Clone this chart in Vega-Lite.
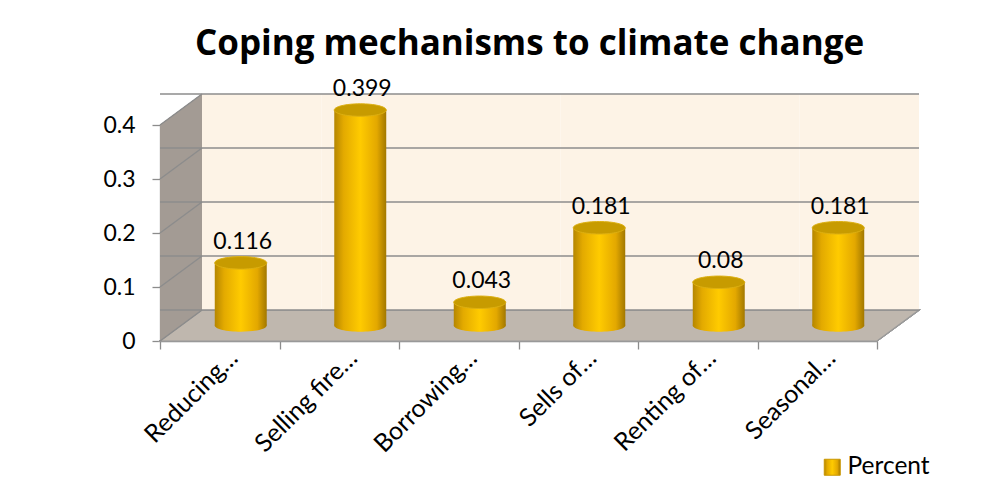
{
  "$schema": "https://vega.github.io/schema/vega-lite/v6.json",
  "width": 717,
  "height": 216,
  "autosize": {"type": "none"},
  "padding": {"left": 160, "top": 125, "right": 112, "bottom": 147},
  "background": "white",
  "config": {
    "view": {"stroke": null},
    "font": "Lato",
    "axis": {
      "labelFont": "Lato",
      "labelFontSize": 23,
      "labelColor": "black",
      "domainColor": "#8C8C8C",
      "domainWidth": 1.3,
      "tickColor": "#8C8C8C",
      "tickWidth": 1.3,
      "tickSize": 8,
      "grid": false,
      "zindex": 1
    },
    "axisX": {"labelAngle": -45, "labelFontSize": 25, "labelPadding": -4, "labelOffset": 5, "tickBand": "extent"},
    "axisY": {"labelPadding": 17}
  },
  "title": {
    "text": "Coping mechanisms to climate change",
    "font": "Open Sans",
    "fontSize": 35,
    "fontWeight": "bold",
    "color": "black",
    "anchor": "middle",
    "frame": "group",
    "baseline": "alphabetic",
    "offset": -12,
    "dx": 11
  },
  "datasets": {
    "coping": [
      {"mechanism": "Reducing…", "share": 0.116},
      {"mechanism": "Selling fire…", "share": 0.399},
      {"mechanism": "Borrowing…", "share": 0.043},
      {"mechanism": "Sells of…", "share": 0.181},
      {"mechanism": "Renting of…", "share": 0.08},
      {"mechanism": "Seasonal…", "share": 0.181}
    ],
    "levels": [
      {"level": 0}, {"level": 0.1}, {"level": 0.2}, {"level": 0.3}, {"level": 0.4}
    ]
  },
  "data": {"name": "coping"},
  "layer": [
    {
      "description": "cylinder bodies, with the axes",
      "mark": {
        "type": "bar",
        "width": {"band": 0.435},
        "xOffset": 21,
        "yOffset": -15.5,
        "y2Offset": -15.5,
        "strokeWidth": 0,
        "fill": {
          "gradient": "linear", "x1": 0, "y1": 0, "x2": 1, "y2": 0,
          "stops": [
            {"offset": 0, "color": "#B58600"},
            {"offset": 0.18, "color": "#E3AA00"},
            {"offset": 0.5, "color": "#FFCB00"},
            {"offset": 0.82, "color": "#E3A800"},
            {"offset": 1, "color": "#A27800"}
          ]
        }
      },
      "encoding": {
        "x": {
          "field": "mechanism",
          "type": "nominal",
          "sort": null,
          "title": null,
          "scale": {"paddingInner": 0, "paddingOuter": 0}
        },
        "y": {
          "field": "share",
          "type": "quantitative",
          "title": null,
          "scale": {"domain": [0, 0.4], "nice": false},
          "axis": {"values": [0, 0.1, 0.2, 0.3, 0.4], "format": "~g"}
        },
        "stroke": {
          "datum": "Percent",
          "type": "nominal",
          "scale": {"range": ["#C99700"]},
          "legend": {
            "title": null,
            "orient": "none",
            "legendX": 660,
            "legendY": 330,
            "padding": 0,
            "symbolType": "square",
            "symbolSize": 256,
            "symbolFillColor": "#FFC000",
            "symbolStrokeColor": "#C99700",
            "symbolStrokeWidth": 1,
            "symbolOpacity": 1,
            "labelFont": "Lato",
            "labelFontSize": 24.5,
            "labelColor": "black",
            "labelOffset": 3
          }
        }
      }
    },
    {
      "description": "floor of the 3D box",
      "mark": {
        "type": "point",
        "shape": "M0,0 L717,0 L759,-31 L42,-31 Z",
        "size": 4,
        "filled": true,
        "fill": "#BFB7AE",
        "stroke": "#9A9A9A",
        "strokeWidth": 1.2,
        "opacity": 1
      },
      "encoding": {
        "x": {"datum": "Reducing…", "type": "nominal", "bandPosition": 0, "title": null},
        "y": {"datum": 0, "type": "quantitative", "title": null}
      }
    },
    {
      "description": "back wall",
      "mark": {
        "type": "rect",
        "fill": "#FDF3E6",
        "xOffset": 42,
        "x2Offset": 42,
        "yOffset": -31,
        "y2Offset": -31
      },
      "encoding": {
        "x": {"field": "mechanism", "type": "nominal", "sort": null, "title": null},
        "y": {"datum": 0, "type": "quantitative", "title": null},
        "y2": {"datum": 0.4}
      }
    },
    {
      "description": "left side wall",
      "mark": {
        "type": "point",
        "shape": "M0,0 L0,-216 L42,-247 L42,-31 Z",
        "size": 4,
        "filled": true,
        "fill": "#A39B94",
        "strokeWidth": 0,
        "opacity": 1
      },
      "encoding": {
        "x": {"datum": "Reducing…", "type": "nominal", "bandPosition": 0, "title": null},
        "y": {"datum": 0, "type": "quantitative", "title": null}
      }
    },
    {
      "description": "gridlines on the back wall",
      "data": {"name": "levels"},
      "mark": {
        "type": "rule",
        "color": "#8C8C8C",
        "strokeWidth": 1.4,
        "xOffset": 42,
        "x2Offset": 42,
        "yOffset": -31,
        "y2Offset": -31
      },
      "encoding": {
        "y": {"field": "level", "type": "quantitative", "title": null}
      }
    },
    {
      "description": "gridlines on the side wall",
      "data": {"name": "levels"},
      "mark": {
        "type": "rule",
        "color": "#8C8C8C",
        "strokeWidth": 1.4,
        "x2Offset": 42,
        "y2Offset": -31
      },
      "encoding": {
        "x": {"datum": "Reducing…", "type": "nominal", "bandPosition": 0, "title": null},
        "x2": {"datum": "Reducing…", "bandPosition": 0},
        "y": {"field": "level", "type": "quantitative", "title": null},
        "y2": {"field": "level"}
      }
    },
    {
      "description": "rounded bottoms of the cylinders",
      "mark": {
        "type": "point",
        "shape": "M-1,0 A1,0.24 0 0,0 1,0 A1,0.24 0 0,0 -1,0 Z",
        "size": 2704,
        "filled": true,
        "opacity": 1,
        "strokeWidth": 0,
        "xOffset": 21,
        "yOffset": -15.5,
        "fill": {
          "gradient": "linear", "x1": 0, "y1": 0, "x2": 1, "y2": 0,
          "stops": [
            {"offset": 0, "color": "#B58600"},
            {"offset": 0.18, "color": "#E3AA00"},
            {"offset": 0.5, "color": "#FFCB00"},
            {"offset": 0.82, "color": "#E3A800"},
            {"offset": 1, "color": "#A27800"}
          ]
        }
      },
      "encoding": {
        "x": {"field": "mechanism", "type": "nominal", "sort": null, "title": null},
        "y": {"datum": 0, "type": "quantitative", "title": null}
      }
    },
    {
      "description": "cylinder bodies drawn again above the walls",
      "mark": {
        "type": "bar",
        "width": {"band": 0.435},
        "xOffset": 21,
        "yOffset": -15.5,
        "y2Offset": -15.5,
        "strokeWidth": 0,
        "fill": {
          "gradient": "linear", "x1": 0, "y1": 0, "x2": 1, "y2": 0,
          "stops": [
            {"offset": 0, "color": "#B58600"},
            {"offset": 0.18, "color": "#E3AA00"},
            {"offset": 0.5, "color": "#FFCB00"},
            {"offset": 0.82, "color": "#E3A800"},
            {"offset": 1, "color": "#A27800"}
          ]
        }
      },
      "encoding": {
        "x": {"field": "mechanism", "type": "nominal", "sort": null, "title": null},
        "y": {"field": "share", "type": "quantitative", "title": null}
      }
    },
    {
      "description": "top faces of the cylinders",
      "mark": {
        "type": "point",
        "shape": "M-1,0 A1,0.24 0 0,0 1,0 A1,0.24 0 0,0 -1,0 Z",
        "size": 2704,
        "filled": true,
        "opacity": 1,
        "fill": "#C79B00",
        "stroke": "#DDB012",
        "strokeWidth": 1,
        "xOffset": 21,
        "yOffset": -15.5
      },
      "encoding": {
        "x": {"field": "mechanism", "type": "nominal", "sort": null, "title": null},
        "y": {"field": "share", "type": "quantitative", "title": null}
      }
    },
    {
      "description": "value labels",
      "mark": {
        "type": "text",
        "font": "Lato",
        "fontSize": 23,
        "color": "black",
        "align": "center",
        "baseline": "alphabetic",
        "dx": 23,
        "dy": -29.5
      },
      "encoding": {
        "x": {"field": "mechanism", "type": "nominal", "sort": null, "title": null},
        "y": {"field": "share", "type": "quantitative", "title": null},
        "text": {"field": "share", "type": "quantitative"}
      }
    }
  ]
}
